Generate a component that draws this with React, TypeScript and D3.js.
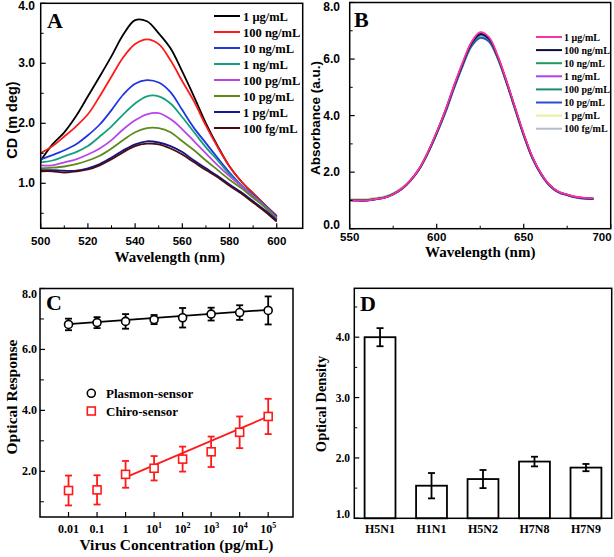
import React from 'react'
import * as d3 from 'd3'

const SANS = '"Liberation Sans", Arial, sans-serif'
const SERIF = '"Liberation Serif", "Times New Roman", serif'

// ---- panel A: CD spectra
const wlA = [500, 505, 510, 515, 520, 525, 530, 535, 540, 545, 550, 555, 560, 565, 570, 575, 580, 585, 590, 595, 600]
const cd1ug = [1.38, 1.65, 1.85, 2.12, 2.45, 2.78, 3.12, 3.48, 3.72, 3.70, 3.50, 3.25, 2.86, 2.44, 2.00, 1.62, 1.28, 1.03, 0.83, 0.64, 0.45]
const cd100ng = [1.50, 1.62, 1.78, 1.95, 2.15, 2.45, 2.78, 3.10, 3.32, 3.40, 3.32, 3.05, 2.70, 2.36, 1.96, 1.60, 1.28, 1.03, 0.83, 0.64, 0.46]
const cd10ng = [1.40, 1.47, 1.55, 1.65, 1.80, 1.98, 2.22, 2.48, 2.66, 2.72, 2.68, 2.52, 2.22, 1.92, 1.67, 1.42, 1.18, 0.97, 0.80, 0.63, 0.44]
const cd1ng = [1.35, 1.38, 1.45, 1.52, 1.62, 1.78, 1.95, 2.15, 2.33, 2.45, 2.45, 2.33, 2.10, 1.85, 1.60, 1.38, 1.15, 0.96, 0.79, 0.62, 0.42]
const cd100pg = [1.30, 1.30, 1.35, 1.40, 1.48, 1.58, 1.72, 1.90, 2.05, 2.15, 2.17, 2.07, 1.90, 1.70, 1.50, 1.30, 1.12, 0.95, 0.78, 0.61, 0.41]
const cd10pg = [1.25, 1.26, 1.28, 1.32, 1.38, 1.46, 1.58, 1.72, 1.85, 1.92, 1.92, 1.85, 1.70, 1.55, 1.38, 1.22, 1.06, 0.92, 0.76, 0.60, 0.40]
const cd1pg = [1.22, 1.22, 1.21, 1.21, 1.25, 1.32, 1.43, 1.55, 1.65, 1.70, 1.68, 1.62, 1.52, 1.38, 1.25, 1.12, 0.98, 0.85, 0.70, 0.55, 0.38]
const cd100fg = [1.20, 1.20, 1.18, 1.20, 1.23, 1.30, 1.40, 1.52, 1.62, 1.66, 1.65, 1.58, 1.48, 1.35, 1.22, 1.10, 0.96, 0.83, 0.68, 0.53, 0.36]
const seriesA = [
  { name: '1 \u03bcg/mL', color: '#000000', values: cd1ug },
  { name: '100 ng/mL', color: '#ff1a1a', values: cd100ng },
  { name: '10 ng/mL', color: '#2236e0', values: cd10ng },
  { name: '1 ng/mL', color: '#14a07c', values: cd1ng },
  { name: '100 pg/mL', color: '#b845e8', values: cd100pg },
  { name: '10 pg/mL', color: '#5e8a1c', values: cd10pg },
  { name: '1 pg/mL', color: '#16168c', values: cd1pg },
  { name: '100 fg/mL', color: '#4a0c10', values: cd100fg },
]

// ---- panel B: absorbance spectra
const wlB = [550, 555, 560, 565, 570, 575, 580, 585, 590, 595, 600, 605, 610, 615, 620, 625, 630, 635, 640, 645, 650, 655, 660, 665, 670, 675, 680, 685, 690]
const abs1ug = [1.01, 1.00, 1.00, 1.05, 1.10, 1.22, 1.42, 1.72, 2.13, 2.72, 3.42, 4.19, 5.07, 5.89, 6.60, 6.95, 6.78, 6.13, 5.25, 4.30, 3.36, 2.54, 1.95, 1.54, 1.31, 1.21, 1.13, 1.09, 1.07]
const abs100ng = [1.01, 1.00, 1.00, 1.05, 1.10, 1.22, 1.41, 1.71, 2.12, 2.70, 3.40, 4.17, 5.04, 5.85, 6.55, 6.88, 6.72, 6.09, 5.22, 4.27, 3.33, 2.52, 1.94, 1.53, 1.30, 1.20, 1.12, 1.08, 1.06]
const abs10ng = [1.02, 1.01, 1.01, 1.06, 1.11, 1.23, 1.42, 1.71, 2.11, 2.69, 3.38, 4.15, 5.02, 5.83, 6.52, 6.85, 6.70, 6.07, 5.21, 4.26, 3.32, 2.51, 1.93, 1.53, 1.30, 1.20, 1.12, 1.08, 1.06]
const abs1ng = [1.01, 1.00, 1.00, 1.05, 1.10, 1.22, 1.41, 1.71, 2.12, 2.71, 3.41, 4.18, 5.05, 5.86, 6.57, 6.90, 6.74, 6.10, 5.23, 4.28, 3.34, 2.53, 1.94, 1.53, 1.30, 1.20, 1.12, 1.08, 1.06]
const abs100pg = [1.02, 1.01, 1.01, 1.06, 1.11, 1.23, 1.42, 1.71, 2.11, 2.69, 3.38, 4.15, 5.02, 5.83, 6.52, 6.85, 6.70, 6.07, 5.21, 4.26, 3.32, 2.51, 1.93, 1.53, 1.30, 1.20, 1.12, 1.08, 1.06]
const abs10pg = [1.00, 0.99, 0.99, 1.04, 1.09, 1.21, 1.40, 1.70, 2.10, 2.67, 3.35, 4.10, 4.96, 5.76, 6.45, 6.75, 6.62, 6.02, 5.17, 4.22, 3.29, 2.48, 1.91, 1.51, 1.28, 1.18, 1.10, 1.06, 1.05]
const abs1pg = [1.05, 1.04, 1.04, 1.08, 1.13, 1.25, 1.44, 1.72, 2.12, 2.68, 3.36, 4.12, 4.98, 5.78, 6.44, 6.72, 6.62, 6.03, 5.18, 4.24, 3.31, 2.50, 1.93, 1.53, 1.30, 1.20, 1.12, 1.08, 1.06]
const abs100fg = [1.06, 1.05, 1.05, 1.09, 1.14, 1.26, 1.45, 1.73, 2.13, 2.70, 3.38, 4.14, 5.00, 5.80, 6.50, 6.80, 6.66, 6.05, 5.20, 4.25, 3.32, 2.51, 1.93, 1.53, 1.30, 1.20, 1.12, 1.08, 1.06]
const seriesB = [
  { name: '1 \u03bcg/mL', color: '#ff2fa6', values: abs1ug },
  { name: '100 ng/mL', color: '#0c0c3c', values: abs100ng },
  { name: '10 ng/mL', color: '#1f9a5c', values: abs10ng },
  { name: '1 ng/mL', color: '#b040f0', values: abs1ng },
  { name: '100 pg/mL', color: '#1a8a78', values: abs100pg },
  { name: '10 pg/mL', color: '#2a4ad8', values: abs10pg },
  { name: '1 pg/mL', color: '#e4f09a', values: abs1pg },
  { name: '100 fg/mL', color: '#b4bccb', values: abs100fg },
]

// ---- panel C: dose response
const concC = [0.01, 0.1, 1, 10, 100, 1000, 10000, 100000]
const plasmonVal = [6.82, 6.88, 6.92, 6.98, 7.04, 7.16, 7.21, 7.28]
const plasmonErr = [0.19, 0.18, 0.24, 0.15, 0.32, 0.21, 0.24, 0.46]
const chiroVal = [1.37, 1.39, 1.90, 2.10, 2.40, 2.64, 3.28, 3.80]
const chiroErr = [0.49, 0.48, 0.44, 0.40, 0.41, 0.50, 0.52, 0.58]
const plasmonFit = [[0.01, 6.83], [100000, 7.30]]
const chiroFit = [[1, 1.80], [100000, 3.80]]
const concLabels = ['0.01', '0.1', '1', '10^1', '10^2', '10^3', '10^4', '10^5']

// ---- panel D: selectivity
const strains = ['H5N1', 'H1N1', 'H5N2', 'H7N8', 'H7N9']
const densityVal = [4.00, 1.54, 1.65, 1.94, 1.84]
const densityErr = [0.15, 0.21, 0.15, 0.08, 0.06]

const fmt1 = d3.format('.1f')

function TitleY({ x, y, text, family, size }: any) {
  return (
    <text transform={`translate(${x},${y}) rotate(-90)`} textAnchor="middle" fontFamily={family} fontWeight="bold" fontSize={size}>{text}</text>
  )
}

function PanelA() {
  const x = d3.scaleLinear().domain([500, 611]).range([40.7, 302.7])
  const y = d3.scaleLinear().domain([0.25, 4.0]).range([228.3, 3.3])
  const line = d3.line<number>().x((d, i) => x(wlA[i])).y(d => y(d)).curve(d3.curveCatmullRom)
  const xMajor = [500, 520, 540, 560, 580, 600]
  const xMinor = [510, 530, 550, 570, 590]
  const yMajor = [1, 2, 3, 4]
  const yMinor = [0.5, 1.5, 2.5, 3.5]
  const [x0, x1] = x.range()
  const [y0, y1] = y.range()
  return (
    <g>
      {seriesA.map(s => (
        <path key={s.name} d={line(s.values) || ''} fill="none" stroke={s.color} strokeWidth={1.8} />
      ))}
      <rect x={x0} y={y1} width={x1 - x0} height={y0 - y1} fill="none" stroke="#000" strokeWidth={1.5} />
      {xMajor.map(t => <line key={'a' + t} x1={x(t)} x2={x(t)} y1={y0} y2={y0 - 5} stroke="#000" strokeWidth={1.2} />)}
      {xMinor.map(t => <line key={'b' + t} x1={x(t)} x2={x(t)} y1={y0} y2={y0 - 3} stroke="#000" strokeWidth={1} />)}
      {yMajor.map(t => <line key={'c' + t} x1={x0} x2={x0 + 5} y1={y(t)} y2={y(t)} stroke="#000" strokeWidth={1.2} />)}
      {yMinor.map(t => <line key={'d' + t} x1={x0} x2={x0 + 3} y1={y(t)} y2={y(t)} stroke="#000" strokeWidth={1} />)}
      {xMajor.map(t => (
        <text key={'e' + t} x={x(t)} y={245} textAnchor="middle" fontFamily={SANS} fontWeight="bold" fontSize={11.5}>{t}</text>
      ))}
      {yMajor.map(t => (
        <text key={'f' + t} x={35} y={Math.max(y(t), 6) + 4} textAnchor="end" fontFamily={SANS} fontWeight="bold" fontSize={12}>{fmt1(t)}</text>
      ))}
      <text x={(x0 + x1) / 2 - 2} y={262} textAnchor="middle" fontFamily={SERIF} fontWeight="bold" fontSize={15}>Wavelength (nm)</text>
      <TitleY x={17} y={120} text="CD (m deg)" family={SANS} size={14.5} />
      <text x={47} y={28} fontFamily={SERIF} fontWeight="bold" fontSize={22}>A</text>
      {seriesA.map((s, i) => (
        <g key={'l' + s.name} transform={`translate(0,${16 + i * 16})`}>
          <line x1={214} x2={240} y1={0} y2={0} stroke={s.color} strokeWidth={2} />
          <text x={243} y={4.5} fontFamily={SERIF} fontWeight="bold" fontSize={12.5}>{s.name}</text>
        </g>
      ))}
    </g>
  )
}

function PanelB() {
  const x = d3.scaleLinear().domain([550, 700]).range([349.7, 610.7])
  const y = d3.scaleLinear().domain([0, 8]).range([228.7, 2.5])
  const line = d3.line<number>().x((d, i) => x(wlB[i])).y(d => y(d)).curve(d3.curveCatmullRom)
  const xMajor = [550, 600, 650, 700]
  const xMinor = [575, 625, 675]
  const yMajor = [0, 2, 4, 6, 8]
  const yMinor = [1, 3, 5, 7]
  const [x0, x1] = x.range()
  const [y0, y1] = y.range()
  const drawOrder = seriesB.slice().reverse()
  return (
    <g>
      {drawOrder.map(s => (
        <path key={s.name} d={line(s.values) || ''} fill="none" stroke={s.color} strokeWidth={1.8} />
      ))}
      <rect x={x0} y={y1} width={x1 - x0} height={y0 - y1} fill="none" stroke="#000" strokeWidth={1.5} />
      {xMajor.map(t => <line key={'a' + t} x1={x(t)} x2={x(t)} y1={y0} y2={y0 - 5} stroke="#000" strokeWidth={1.2} />)}
      {xMinor.map(t => <line key={'b' + t} x1={x(t)} x2={x(t)} y1={y0} y2={y0 - 3} stroke="#000" strokeWidth={1} />)}
      {yMajor.map(t => <line key={'c' + t} x1={x0} x2={x0 + 5} y1={y(t)} y2={y(t)} stroke="#000" strokeWidth={1.2} />)}
      {yMinor.map(t => <line key={'d' + t} x1={x0} x2={x0 + 3} y1={y(t)} y2={y(t)} stroke="#000" strokeWidth={1} />)}
      {xMajor.map(t => (
        <text key={'e' + t} x={Math.min(x(t), 602)} y={241} textAnchor="middle" fontFamily={SANS} fontWeight="bold" fontSize={11.5}>{t}</text>
      ))}
      {yMajor.map(t => (
        <text key={'f' + t} x={340} y={Math.min(Math.max(y(t), 7), 225) + 4} textAnchor="end" fontFamily={SANS} fontWeight="bold" fontSize={12}>{fmt1(t)}</text>
      ))}
      <text x={(x0 + x1) / 2} y={257} textAnchor="middle" fontFamily={SERIF} fontWeight="bold" fontSize={15}>Wavelength (nm)</text>
      <TitleY x={320} y={118} text="Absorbance (a.u.)" family={SANS} size={13.5} />
      <text x={354} y={27} fontFamily={SERIF} fontWeight="bold" fontSize={22}>B</text>
      {seriesB.map((s, i) => (
        <g key={'l' + s.name} transform={`translate(0,${37 + i * 13.1})`}>
          <line x1={536} x2={562} y1={0} y2={0} stroke={s.color} strokeWidth={2} />
          <text x={564} y={3.5} fontFamily={SERIF} fontWeight="bold" fontSize={10}>{s.name}</text>
        </g>
      ))}
    </g>
  )
}

function ErrBar({ x, ya, yb, color, cap }: any) {
  return (
    <g stroke={color} strokeWidth={1.8}>
      <line x1={x} x2={x} y1={ya} y2={yb} />
      <line x1={x - cap} x2={x + cap} y1={ya} y2={ya} />
      <line x1={x - cap} x2={x + cap} y1={yb} y2={yb} />
    </g>
  )
}

function PanelC() {
  const x = d3.scaleLog().domain([0.001, Math.pow(10, 5.87)]).range([40, 293])
  const y = d3.scaleLinear().domain([0.5, 8]).range([517, 288.5])
  const [x0, x1] = x.range()
  const [y0, y1] = y.range()
  const fit = d3.line<number[]>().x(d => x(d[0])).y(d => y(d[1]))
  const yMajor = [2, 4, 6, 8]
  const yMinor = [1, 3, 5, 7]
  return (
    <g>
      <rect x={x0} y={y1} width={x1 - x0} height={y0 - y1} fill="none" stroke="#000" strokeWidth={1.5} />
      {concC.map(t => <line key={'a' + t} x1={x(t)} x2={x(t)} y1={y0} y2={y0 - 5} stroke="#000" strokeWidth={1.2} />)}
      {yMajor.map(t => <line key={'c' + t} x1={x0} x2={x0 + 5} y1={y(t)} y2={y(t)} stroke="#000" strokeWidth={1.2} />)}
      {yMinor.map(t => <line key={'d' + t} x1={x0} x2={x0 + 4} y1={y(t)} y2={y(t)} stroke="#000" strokeWidth={1} />)}
      {concC.map((t, i) => {
        const lab = concLabels[i]
        const parts = lab.split('^')
        return (
          <text key={'e' + t} x={x(t)} y={533} textAnchor="middle" fontFamily={SERIF} fontWeight="bold" fontSize={12}>
            {parts[0]}
            {parts[1] ? <tspan dy={-5} fontSize={8}>{parts[1]}</tspan> : null}
          </text>
        )
      })}
      {yMajor.map(t => (
        <text key={'f' + t} x={37} y={Math.max(y(t), 294) + 4} textAnchor="end" fontFamily={SERIF} fontWeight="bold" fontSize={12}>{fmt1(t)}</text>
      ))}
      <text x={(x0 + x1) / 2 + 10} y={550} textAnchor="middle" fontFamily={SERIF} fontWeight="bold" fontSize={15.5}>Virus Concentration (pg/mL)</text>
      <TitleY x={17} y={397} text="Optical Response" family={SERIF} size={15.5} />
      <text x={46} y={310} fontFamily={SERIF} fontWeight="bold" fontSize={22}>C</text>

      <path d={fit(plasmonFit) || ''} fill="none" stroke="#000" strokeWidth={1.8} />
      <path d={fit(chiroFit) || ''} fill="none" stroke="#ff1a1a" strokeWidth={1.8} />
      {concC.map((t, i) => (
        <g key={'p' + t}>
          <ErrBar x={x(t)} ya={y(plasmonVal[i] + plasmonErr[i])} yb={y(plasmonVal[i] - plasmonErr[i])} color="#000" cap={3.5} />
          <circle cx={x(t)} cy={y(plasmonVal[i])} r={4} fill="#fff" stroke="#000" strokeWidth={1.6} />
        </g>
      ))}
      {concC.map((t, i) => (
        <g key={'q' + t}>
          <ErrBar x={x(t)} ya={y(chiroVal[i] + chiroErr[i])} yb={y(chiroVal[i] - chiroErr[i])} color="#ff1a1a" cap={3.5} />
          <rect x={x(t) - 4} y={y(chiroVal[i]) - 4} width={8} height={8} fill="#fff" stroke="#ff1a1a" strokeWidth={1.6} />
        </g>
      ))}
      <circle cx={91.3} cy={393.3} r={4} fill="#fff" stroke="#000" strokeWidth={1.6} />
      <text x={106} y={398} fontFamily={SERIF} fontWeight="bold" fontSize={13}>Plasmon-sensor</text>
      <rect x={87.3} y={407} width={8} height={8} fill="#fff" stroke="#ff1a1a" strokeWidth={1.6} />
      <text x={106} y={415.5} fontFamily={SERIF} fontWeight="bold" fontSize={13}>Chiro-sensor</text>
    </g>
  )
}

function PanelD() {
  const x = d3.scaleBand().domain(strains).range([354.3, 611.7]).paddingInner(0.4).paddingOuter(0.2)
  const y = d3.scaleLinear().domain([1, 4.81]).range([518.3, 288.3])
  const [x0, x1] = x.range()
  const [y0, y1] = y.range()
  const yMajor = [1, 2, 3, 4]
  const yMinor = [1.5, 2.5, 3.5, 4.5]
  const bw = x.bandwidth()
  return (
    <g>
      {strains.map((s, i) => (
        <g key={s}>
          <rect x={x(s)} y={y(densityVal[i])} width={bw} height={y0 - y(densityVal[i])} fill="#fff" stroke="#000" strokeWidth={1.8} />
          <ErrBar x={(x(s) || 0) + bw / 2} ya={y(densityVal[i] + densityErr[i])} yb={y(densityVal[i] - densityErr[i])} color="#000" cap={3.5} />
        </g>
      ))}
      <rect x={x0} y={y1} width={x1 - x0} height={y0 - y1} fill="none" stroke="#000" strokeWidth={1.5} />
      {yMajor.map(t => <line key={'c' + t} x1={x0} x2={x0 + 5} y1={y(t)} y2={y(t)} stroke="#000" strokeWidth={1.2} />)}
      {yMinor.map(t => <line key={'d' + t} x1={x0} x2={x0 + 3} y1={y(t)} y2={y(t)} stroke="#000" strokeWidth={1} />)}
      {strains.map(s => (
        <text key={'e' + s} x={(x(s) || 0) + bw / 2} y={533} textAnchor="middle" fontFamily={SERIF} fontWeight="bold" fontSize={12}>{s}</text>
      ))}
      {yMajor.map(t => (
        <text key={'f' + t} x={350} y={Math.min(y(t), 514) + 4} textAnchor="end" fontFamily={SERIF} fontWeight="bold" fontSize={11.5}>{fmt1(t)}</text>
      ))}
      <TitleY x={326} y={404} text="Optical Density" family={SERIF} size={14.5} />
      <text x={360} y={311} fontFamily={SERIF} fontWeight="bold" fontSize={22}>D</text>
    </g>
  )
}

export default function App() {
  return (
    <svg width={614} height={557} style={{ position: 'absolute', left: 0, top: 0, background: '#fff' }}>
      <rect width={614} height={557} fill="#fff" />
      <PanelA />
      <PanelB />
      <PanelC />
      <PanelD />
    </svg>
  )
}
